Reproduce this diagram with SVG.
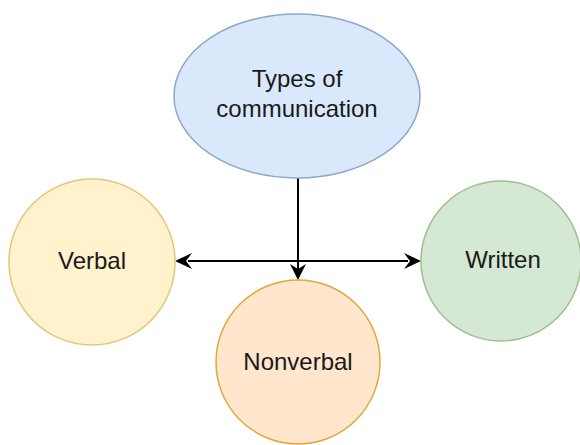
<svg xmlns="http://www.w3.org/2000/svg" width="580" height="445" viewBox="0 0 580 445">
<style>
.lbl{font-family:"Liberation Sans",Arial,sans-serif;font-size:24px;fill:#1a1a1a;text-anchor:middle}
.edge{stroke:#000;stroke-width:2;fill:none}
</style>
<defs>
<marker id="arr" viewBox="0 0 10 10" refX="10" refY="5" markerWidth="8" markerHeight="8" markerUnits="userSpaceOnUse" orient="auto" >
<path d="M0,0 L10,5 L0,10 L3,5 Z" fill="#000"/>
</marker>
</defs>
<rect width="580" height="445" fill="#fff"/>
<g id="edges">
<line class="edge" x1="298" y1="178" x2="298" y2="270" />
<path d="M298,280 L290,264 L298,269 L306,264 Z" fill="#000"/>
<line class="edge" x1="188" y1="261" x2="408" y2="261"/>
<path d="M175,261 L192,253 L186,261 L192,269 Z" fill="#000"/>
<path d="M421,261 L404,253 L410,261 L404,269 Z" fill="#000"/>
</g>
<g id="types">
<ellipse cx="297" cy="96" rx="123" ry="82" fill="#dae8fc" stroke="#8ea7cf" stroke-width="1.5"/>
<text class="lbl" x="297" y="87">Types of</text>
<text class="lbl" x="297" y="117">communication</text>
</g>
<g id="verbal">
<circle cx="92" cy="262" r="83" fill="#fff2cc" stroke="#e0c77a" stroke-width="1.5"/>
<text class="lbl" x="92" y="269">Verbal</text>
</g>
<g id="written">
<circle cx="501" cy="261" r="80" fill="#d5e8d4" stroke="#9cc08c" stroke-width="1.5"/>
<text class="lbl" x="503" y="268">Written</text>
</g>
<g id="nonverbal">
<circle cx="298" cy="362" r="82" fill="#ffe6cc" stroke="#e0a93a" stroke-width="1.5"/>
<text class="lbl" x="298" y="370">Nonverbal</text>
</g>
</svg>
